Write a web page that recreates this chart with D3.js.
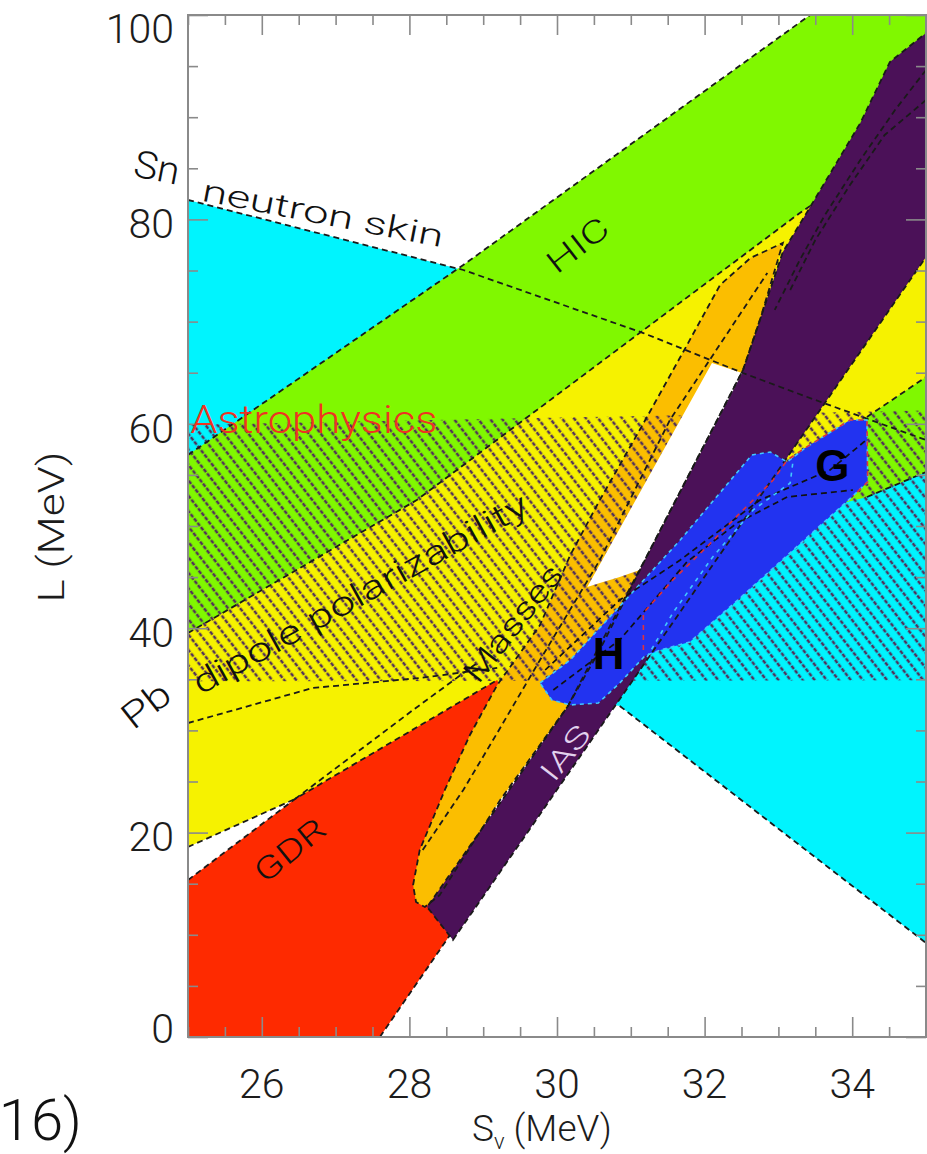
<!DOCTYPE html>
<html><head><meta charset="utf-8">
<script src="https://cdn.jsdelivr.net/npm/d3@7"></script>
<style>body{margin:0;background:#fff}</style>
</head><body>
<svg id="c" width="927" height="1154"></svg>
<script>
// ---- data (S_v in MeV, L in MeV) ----
const snSkin   = [[25,81.9],[28.73,75.05],[31.17,68.88],[32.52,64.97],[33.39,62.62],[35,58.41],[35,9.2],[30.85,32.39],[25,40.02]];
const hic      = [[25,56.95],[28.73,75.54],[33.43,100],[35,100],[35,55.28],[34.2,52.84],[25,35.91]];
const pbDipole = [[25,39.53],[28.1,52.54],[33.29,80.63],[35,88.94],[35,64.58],[34.2,60.67],[31.94,48.63],[30.58,41.39],[29.19,33.95],[26.45,23.29],[25,18.59]];
const gdr      = [[25,15.36],[26.45,23.29],[29.19,34.93],[29.3,32.97],[29.0,19.96],[28.55,9.98],[27.6,0],[25,0]];
const masses   = [[28.05,14.87],[28.14,18.3],[28.48,24.17],[28.82,29.55],[29.19,34.44],[29.77,40.31],[30.18,47.16],[30.58,52.54],[31.12,59.39],[31.71,67.03],[32.21,73.58],[32.62,76.22],[33.06,77.69],[32.75,70.16],[32.52,65.26],[31.26,47.65],[30.92,42.76],[30.58,37.87],[30.14,32.29],[29.23,23.19],[28.41,13.89],[28.21,12.72],[28.09,13.21]];
const astro    = [[25,59.9],[35,61.3],[35,34.9],[25,34.8]];
const ias      = [[28.59,9.49],[35,76.32],[35,98.24],[34.51,95.4],[34.11,89.43],[33.43,81.21],[33.06,76.81],[32.52,65.26],[31.26,47.65],[30.14,32.29],[28.24,12.72]];
const neutronMatter = [[29.77,34.64],[30.18,36.89],[30.99,43.25],[31.67,48.63],[32.64,56.95],[32.89,57.24],[33.12,56.26],[33.36,57.63],[33.97,60.37],[34.2,60.37],[34.21,54.31],[34.01,52.94],[32.48,42.95],[31.8,38.65],[31.4,37.87],[31.19,37.28],[30.85,34.64],[30.56,32.68],[30.18,32.49],[29.93,32.97]];
const overlap  = [[32.1,65.95],[32.51,64.97],[31.12,45.69],[30.85,45.01],[30.58,44.42],[30.41,44.03]];

// dashed contour lines
const snUpper   = [[25,81.9],[28.73,75.05],[31.17,68.88],[32.52,64.97],[33.39,62.62],[35,58.41]];
const snLower   = [[30.85,32.39],[35,9.2]];
const hicUpper  = [[25,56.95],[28.73,75.54],[33.43,100]];
const hicLower  = [[34.2,52.84],[35,55.28]];
const pbUpper   = [[25,39.53],[28.1,52.54],[33.29,80.63],[33.43,81.3]];
const pbLowerA  = [[25,18.59],[26.45,23.29]];
const pbLowerB  = [[34.2,60.67],[35,64.58]];
const pbInner1  = [[25,30.72],[26.69,34.15],[28.14,35.13],[29.19,36.11]];
const pbInner2  = [[26.45,23.29],[28.05,32.0],[28.9,36.5]];
const gdrUpper  = [[25,15.36],[26.45,23.29],[29.19,34.93]];
const gdrRight  = [[27.6,0],[28.55,9.98]];
const massInner = [[28.18,18.3],[28.73,24.17],[29.19,29.75],[29.77,36.89],[30.58,46.67],[31.53,60.37],[32.85,74.76]];
const iasInner1 = [[35,94.62],[34.58,90.7],[34.11,85.81],[33.63,80.43],[33.29,76.03],[32.95,71.14]];
const iasInner2 = [[35,91.68],[34.44,88.26],[33.97,83.37],[33.5,77.98],[33.16,73.09]];
const nmBlack1  = [[29.95,33.95],[30.85,38.85],[31.76,46.48],[32.44,50.29],[33.12,52.84],[34.01,53.52]];
const nmBlack2  = [[29.84,35.91],[30.85,42.76],[31.67,46.67],[32.75,52.54],[33.7,55.48],[34.19,58.41]];
const nmRed     = [[31.17,37.87],[31.17,41.49],[31.57,44.72],[32.03,47.95],[32.48,51.27],[32.93,54.5],[33.12,56.46],[33.36,57.63],[33.97,60.37],[34.2,60.37],[34.21,54.31],[34.01,52.94]];
const nmCyan    = [[31.22,37.18],[31.57,41.49],[32.11,46.97],[32.66,51.57],[33.16,54.21],[33.2,56.46]];

// ticks
const xTickLabels = [26,28,30,32,34];
const yTickLabels = [0,20,40,60,80,100];
const xMinorStep = 0.5, yMinorStep = 5;

// annotations
const annotations = [
  {t:"Sn", s:24.58, l:85.1, r:11, fs:38, len:46, c:"#111"},
  {t:"neutron skin", s:26.83, l:80.6, r:11, fs:31, len:245, c:"#111"},
  {t:"HIC", s:30.28, l:77.5, r:-38, fs:31, len:70, c:"#111"},
  {t:"Pb", s:24.43, l:32.5, r:-38, fs:36, len:52, c:"#111"},
  {t:"dipole polarizability", s:27.33, l:43.4, r:-29, fs:33, len:378, c:"#111"},
  {t:"Masses", s:29.4, l:40.5, r:-52, fs:31, len:140, c:"#111"},
  {t:"GDR", s:26.38, l:18.3, r:-39, fs:31, len:82, c:"#111"},
  {t:"IAS", s:30.11, l:27.8, r:-52, fs:29, len:62, c:"#e2d2ee"},
  {t:"H", s:30.7, l:37.5, r:0, fs:44, len:null, c:"#000", w:"bold"},
  {t:"G", s:33.73, l:55.9, r:0, fs:44, len:null, c:"#000", w:"bold"}
];

const x = d3.scaleLinear().domain([25,35]).range([188,926]);
const y = d3.scaleLinear().domain([0,100]).range([1037,15]);
const svg = d3.select("#c");
const line = d3.line().x(d=>x(d[0])).y(d=>y(d[1]));
const poly = pts => line(pts) + "Z";

const defs = svg.append("defs");
const pat = defs.append("pattern").attr("id","hatch").attr("patternUnits","userSpaceOnUse")
  .attr("width",9.5).attr("height",11).attr("patternTransform","rotate(-38)");
pat.append("line").attr("x1",4.75).attr("y1",0).attr("x2",4.75).attr("y2",11)
  .attr("stroke","#52305a").attr("stroke-width",2.5).attr("stroke-dasharray","4,1.5");
defs.append("clipPath").attr("id","plotclip").append("rect")
  .attr("x",x(25)).attr("y",y(100)).attr("width",x(35)-x(25)).attr("height",y(0)-y(100));

const plot = svg.append("g").attr("clip-path","url(#plotclip)");
const fills = [
  [snSkin,"#00f4fe"],[hic,"#80f800"],[pbDipole,"#f6f200"],[gdr,"#fe2a00"],[masses,"#fbbe00"]
];
fills.forEach(([p,c])=>plot.append("path").attr("d",poly(p)).attr("fill",c));
plot.append("path").attr("d",poly(astro)).attr("fill","url(#hatch)");
plot.append("path").attr("d",poly(ias)).attr("fill","#4b1158");
plot.append("path").attr("d",poly(neutronMatter)).attr("fill","#2233f0");
plot.append("path").attr("d",poly(overlap)).attr("fill","#ffffff");

const dash = (pts,c,w,da)=>plot.append("path").attr("d",line(pts)).attr("fill","none")
  .attr("stroke",c).attr("stroke-width",w||1.8).attr("stroke-dasharray",da||"6,4");
[snUpper,snLower,hicUpper,hicLower,pbUpper,pbLowerA,pbLowerB,pbInner1,pbInner2,gdrUpper,gdrRight,massInner,iasInner1,iasInner2]
  .forEach(p=>dash(p,"#1a1a1a"));
plot.append("path").attr("d",poly(masses)).attr("fill","none").attr("stroke","#1a1a1a").attr("stroke-width",1.8).attr("stroke-dasharray","6,4");
plot.append("path").attr("d",poly(ias)).attr("fill","none").attr("stroke","#1a1a1a").attr("stroke-width",1.8).attr("stroke-dasharray","6,4");
plot.append("path").attr("d",poly(neutronMatter)).attr("fill","none").attr("stroke","#40c8ff").attr("stroke-width",1.6).attr("stroke-dasharray","4,4");
dash(nmBlack1,"#111",1.7,"6,4");
dash(nmBlack2,"#111",1.7,"6,4");
dash(nmRed,"#e0303a",1.6,"5,5");
dash(nmCyan,"#40c8ff",1.6,"4,5");

// frame & ticks
const tickCol = "#8a8a8a";
const xMinor = d3.range(25, 35.001, xMinorStep).filter(v=>!xTickLabels.includes(v));
const yMinor = d3.range(0, 100.001, yMinorStep).filter(v=>!yTickLabels.includes(v));
function addAxis(gen, tr){
  const g = svg.append("g").attr("transform",tr).call(gen);
  g.select(".domain").remove();
  g.selectAll("line").attr("stroke",tickCol).attr("stroke-width",1.6);
}
addAxis(d3.axisBottom(x).tickValues(xTickLabels).tickSize(-20).tickFormat(""), `translate(0,${y(0)})`);
addAxis(d3.axisBottom(x).tickValues(xMinor).tickSize(-10).tickFormat(""), `translate(0,${y(0)})`);
addAxis(d3.axisTop(x).tickValues(xTickLabels).tickSize(-20).tickFormat(""), `translate(0,${y(100)})`);
addAxis(d3.axisTop(x).tickValues(xMinor).tickSize(-10).tickFormat(""), `translate(0,${y(100)})`);
addAxis(d3.axisLeft(y).tickValues(yTickLabels).tickSize(-20).tickFormat(""), `translate(${x(25)},0)`);
addAxis(d3.axisLeft(y).tickValues(yMinor).tickSize(-10).tickFormat(""), `translate(${x(25)},0)`);
addAxis(d3.axisRight(y).tickValues(yTickLabels).tickSize(-20).tickFormat(""), `translate(${x(35)},0)`);
addAxis(d3.axisRight(y).tickValues(yMinor).tickSize(-10).tickFormat(""), `translate(${x(35)},0)`);
svg.append("rect").attr("x",x(25)).attr("y",y(100)).attr("width",x(35)-x(25)).attr("height",y(0)-y(100))
  .attr("fill","none").attr("stroke",tickCol).attr("stroke-width",2);

const font = "Roboto, 'Liberation Sans', Arial, sans-serif";
const bold = "'Liberation Sans', Arial, sans-serif";
svg.append("g").selectAll("text").data(yTickLabels).join("text")
  .attr("x",x(25)-14).attr("y",d=>Math.max(y(100)+13, Math.min(y(0)-9, y(d)+4)))
  .attr("dy","0.36em").attr("text-anchor","end").attr("font-family",font).attr("font-weight",300).attr("font-size",41)
  .attr("fill","#1c1c1c").text(d=>d);
svg.append("g").selectAll("text").data(xTickLabels).join("text")
  .attr("x",d=>x(d)).attr("y",y(0)+46).attr("dy","0.36em").attr("text-anchor","middle")
  .attr("font-family",font).attr("font-weight",300).attr("font-size",41).attr("fill","#1c1c1c").text(d=>d);

svg.append("text").attr("transform",`translate(51,${527}) rotate(-90)`).attr("text-anchor","middle")
  .attr("dy","0.36em").attr("font-family",font).attr("font-weight",300).attr("font-size",37).attr("fill","#1c1c1c")
  .attr("textLength",151).attr("lengthAdjust","spacingAndGlyphs").text("L (MeV)");
const xl = svg.append("text").attr("x",472).attr("y",1141).attr("font-family",font).attr("font-weight",300)
  .attr("font-size",37).attr("fill","#1c1c1c");
xl.append("tspan").text("S");
xl.append("tspan").attr("font-size",22).attr("dy",8).text("v");
xl.append("tspan").attr("dy",-8).text(" (MeV)");
svg.append("text").attr("x",82).attr("y",1140).attr("text-anchor","end").attr("font-family",font).attr("font-weight",300)
  .attr("font-size",58).attr("fill","#111").text("16)");

// Astrophysics label
svg.append("text").attr("x",x(25.03)).attr("y",y(59.1)).attr("font-family",font).attr("font-weight",300).attr("font-size",38)
  .attr("fill","#ee3322").attr("textLength",247).attr("lengthAdjust","spacingAndGlyphs").text("Astrophysics");

annotations.forEach(a=>{
  const t = svg.append("text").attr("transform",`translate(${x(a.s)},${y(a.l)}) rotate(${a.r})`)
    .attr("text-anchor","middle").attr("dy","0.35em").attr("font-family",a.w?bold:font)
    .attr("font-size",a.fs).attr("fill",a.c).attr("font-weight",a.w||300).text(a.t);
  if(a.len){ t.attr("textLength",a.len).attr("lengthAdjust","spacingAndGlyphs"); }
});
</script></body></html>
